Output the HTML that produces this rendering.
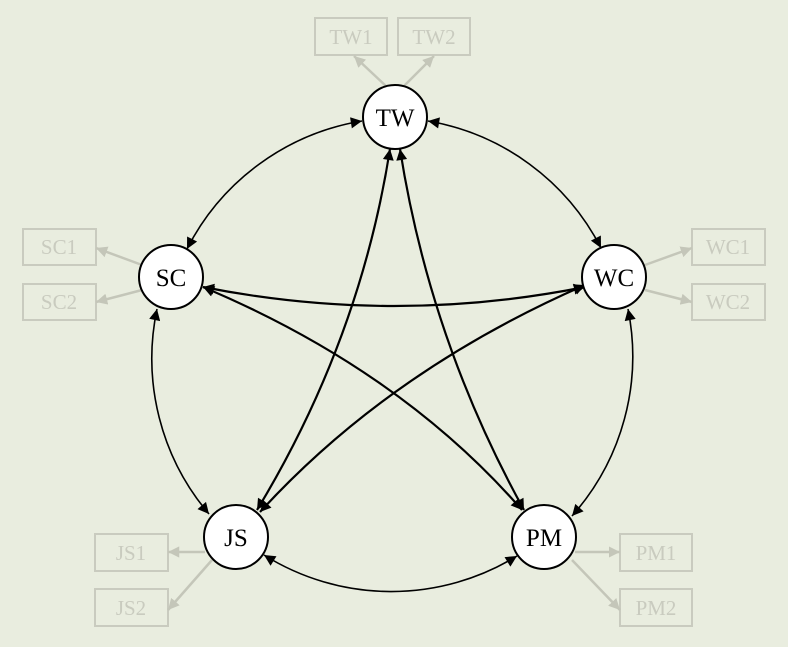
<!DOCTYPE html>
<html><head><style>
html,body{margin:0;padding:0;background:#e9eddf;}
svg{display:block}
text{font-family:"Liberation Serif",serif;}
</style></head><body>
<svg width="788" height="647" viewBox="0 0 788 647" xmlns="http://www.w3.org/2000/svg">
<defs>
<marker id="a" viewBox="0 0 10 10" refX="10" refY="5" markerWidth="7.5" markerHeight="7" orient="auto-start-reverse" markerUnits="strokeWidth"><path d="M0,0 L10,5 L0,10 z" fill="#000"/></marker>
<marker id="b" viewBox="0 0 10 10" refX="10" refY="5" markerWidth="5.5" markerHeight="5" orient="auto-start-reverse" markerUnits="strokeWidth"><path d="M0,0 L10,5 L0,10 z" fill="#000"/></marker>
<marker id="g" viewBox="0 0 10 10" refX="10" refY="5" markerWidth="4.5" markerHeight="4.5" orient="auto" markerUnits="strokeWidth"><path d="M0,0 L10,5 L0,10 z" fill="#c4c6b9"/></marker>
</defs>
<rect width="788" height="647" fill="#e9eddf"/>
<g fill="none" stroke="#c9cbbf" stroke-width="2">
<rect x="315" y="18" width="72" height="37"/><rect x="398" y="18" width="72" height="37"/>
<rect x="23" y="229" width="73" height="36"/><rect x="23" y="284" width="73" height="36"/>
<rect x="692" y="229" width="73" height="36"/><rect x="692" y="284" width="73" height="36"/>
<rect x="95" y="534" width="73" height="37"/><rect x="95" y="589" width="73" height="37"/>
<rect x="620" y="534" width="72" height="37"/><rect x="620" y="589" width="72" height="37"/>
</g>
<g fill="#c9cbbf" font-size="21" text-anchor="middle">
<text x="351" y="44">TW1</text><text x="434" y="44">TW2</text>
<text x="59" y="254">SC1</text><text x="59" y="309">SC2</text>
<text x="728" y="254">WC1</text><text x="728" y="309">WC2</text>
<text x="131" y="560">JS1</text><text x="131" y="615">JS2</text>
<text x="656" y="560">PM1</text><text x="656" y="615">PM2</text>
</g>
<g stroke="#c4c6b9" stroke-width="2.5" fill="none" marker-end="url(#g)">
<path d="M387,87 L354,56"/><path d="M403,87 L434,56"/>
<path d="M142,265 L96,248"/><path d="M142,290 L96,302"/>
<path d="M645,265 L692,248"/><path d="M645,290 L692,302"/>
<path d="M205,552 L168,552"/><path d="M212,560 L168,610"/>
<path d="M575,552 L620,552"/><path d="M572,560 L620,610"/>
</g>
<g stroke="#000" stroke-width="1.6" fill="none" marker-start="url(#a)" marker-end="url(#a)">
<path d="M362,121 A240,240 0 0 0 187,249"/>
<path d="M428,121 A240,240 0 0 1 601,248"/>
<path d="M628,309 A240,240 0 0 1 572,516"/>
<path d="M157,309 A240,240 0 0 0 209,514"/>
<path d="M264,555 A240,240 0 0 0 517,556"/>
</g>
<g stroke="#000" stroke-width="2.2" fill="none" marker-start="url(#b)" marker-end="url(#b)">
<path d="M390,149 Q360,340 257,510"/>
<path d="M400,149 Q430,340 524,510"/>
<path d="M203,287 Q394,325 585,287"/>
<path d="M203,287 Q400,370 522,510"/>
<path d="M260,512 Q390,370 585,285"/>
</g>
<g fill="#fff" stroke="#000" stroke-width="2">
<circle cx="395" cy="117" r="32"/><circle cx="171" cy="277" r="32"/>
<circle cx="614" cy="277" r="32"/><circle cx="236" cy="537" r="32"/>
<circle cx="544" cy="537" r="32"/>
</g>
<g fill="#000" font-size="25" text-anchor="middle">
<text x="395" y="126">TW</text><text x="171" y="286">SC</text>
<text x="614" y="286">WC</text><text x="236" y="546">JS</text>
<text x="544" y="546">PM</text>
</g>
</svg>
</body></html>
